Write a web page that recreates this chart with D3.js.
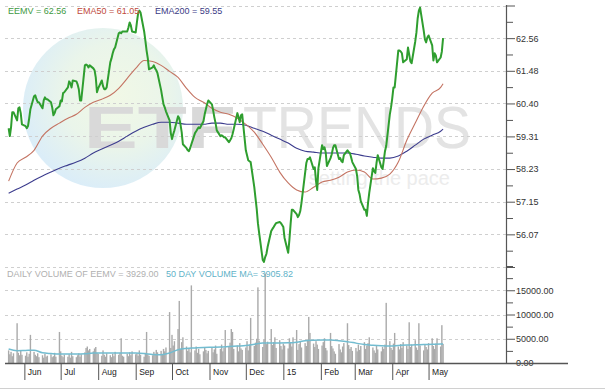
<!DOCTYPE html>
<html>
<head>
<meta charset="utf-8">
<script src="https://cdn.jsdelivr.net/npm/d3@7"></script>
<style>
  body { margin: 0; background: #fff; }
  svg { display: block; font-family: Arial, "Liberation Sans", sans-serif; }
</style>
</head>
<body>
<div id="chart"></div>
<script>
// trading days: weekdays from 19 May 2014 to 13 May 2015
const firstDay = new Date(2014, 4, 19),
    lastDay = new Date(2015, 4, 13);

// daily close of EEMV
const closes = [
  59.58, 59.32, 59.61, 60.11, 60.11,  59.84, 60.24, 60.27, 60.08, 59.71,
  59.65, 59.58, 59.65, 59.91, 60.21,  60.64, 60.67, 60.54, 60.44, 60.44,
  60.24, 60.50, 60.60, 60.54, 60.54,  60.44, 60.27, 60.01, 60.08, 60.21,
  60.31, 60.50, 60.47, 60.74, 60.77,  60.93, 61.13, 61.07, 60.93, 61.16,
  61.13, 61.03, 60.87, 60.50, 60.50,  61.66, 61.69, 61.66, 61.59, 61.66,
  61.56, 61.50, 61.26, 60.77, 60.90,  61.16, 60.97, 60.87, 60.87, 60.93,
  61.76, 61.89, 62.06, 62.19, 62.25,  62.72, 62.75, 62.72, 62.78, 62.78,
  62.78, 62.91, 63.08, 62.98, 62.78,  62.75, 63.08, 63.38, 63.47, 63.41,
  62.78, 62.48, 62.15, 61.89, 61.53,  61.59, 61.66, 61.56, 61.50, 61.40,
  60.84, 60.60, 60.37, 60.27, 60.14,  59.84, 59.42, 59.22, 59.38, 59.51,
  59.98, 59.91, 59.71, 59.45, 59.05,  58.92, 58.85, 58.82, 58.92, 59.05,
  59.42, 59.48, 59.55, 59.61, 59.58,  59.81, 60.04, 60.21, 60.37, 60.50,
  60.37, 60.17, 59.94, 59.75, 59.51,  59.32, 59.35, 59.32, 59.28, 59.28,
  59.12, 59.18, 59.25, 59.38, 59.55,  60.08, 59.94, 59.78, 60.01, 60.04,
  58.85, 58.69, 58.52, 58.49, 58.46,  57.63, 57.27, 56.91, 56.44, 56.12,
  55.22, 55.16, 55.32, 55.42, 55.65,  56.18, 56.25, 56.31, 56.38, 56.44,
  56.48, 56.44, 56.38, 56.31, 55.95,  55.46, 55.88, 56.41, 56.88, 56.88,
  56.74, 56.64, 56.71, 56.84, 57.11,  58.10, 58.43, 58.56, 58.56, 58.62,
  58.23, 58.29, 57.83, 57.54, 58.26,  59.02, 58.89, 58.95, 58.79, 58.33,
  58.59, 58.72, 58.92, 59.02, 59.02,  58.56, 58.59, 58.49, 58.46, 58.69,
  58.85, 58.79, 58.76, 58.62, 58.46,  58.23, 58.00, 57.54, 57.40, 57.17,
  56.88, 56.88, 56.68, 57.11, 57.44,  58.26, 58.16, 58.10, 58.43, 58.69,
  58.29, 58.23, 58.52, 58.82, 58.99,  60.04, 60.27, 60.57, 60.93, 60.93,
  62.15, 62.15, 62.12, 62.06, 61.76,  61.86, 62.25, 62.02, 61.79, 61.73,
  62.45, 62.75, 63.21, 63.47, 63.57,  62.81, 62.52, 62.42, 62.58, 62.65,
  62.32, 61.82, 62.06, 61.99, 61.76,  61.92, 62.12, 62.56
];

// daily volume
const volumes = [
  2600, 1800, 2300, 1400, 2000,  8200, 2100, 1600, 2500, 1700,
  1500, 2200, 1300, 1900, 5800,  2300, 1700, 1400, 2000, 1200,
  1600, 1100, 1900, 1300, 1500,  1800, 1200, 1400, 2100, 1300,
  6400, 2400, 1500, 1200, 1700,  1300, 1800, 1100, 2300, 1400,
  1200, 1600, 2000, 1300, 1800,  2200, 3100, 3400, 2600, 2900,
  2400, 3000, 3300, 2100, 1900,  1500, 2600, 1700, 1300, 2000,
  1600, 1200, 1900, 1400, 2300,  1700, 2100, 5100, 1500, 1300,
  1900, 1400, 2200, 1600, 2400,  1800, 2000, 1500, 2600, 1700,
  1300, 2100, 6400, 1800, 1500,  1600, 2300, 1900, 2700, 2200,
  2500, 1800, 2900, 2400, 3200,  10500, 3100, 5800, 3600, 4500,
  7000, 12800, 2800, 4300, 5300,  3400, 2500, 3000, 2200, 16000,
  2600, 3400, 2100, 2900, 1800,  2400, 3100, 2700, 2000, 2500,
  3300, 2200, 2800, 3600, 1900,  2900, 3800, 2400, 3100, 6800,
  3400, 4200, 7000, 6400, 2900,  3600, 2400, 4100, 3000, 2700,
  3200, 4500, 2600, 3800, 9300,  3500, 4200, 5000, 15600, 4600,
  3300, 4800, 18500, 3900, 4400,  7000, 3700, 4300, 5300, 3100,
  4700, 3500, 2800, 4000, 3600,  3000, 5100, 4200, 3400, 5300,
  6800, 2700, 3900, 4400, 3200,  4100, 3500, 4600, 9500, 6200,
  4000, 3300, 4500, 3800, 2900,  3600, 4300, 5100, 3100, 2600,
  6200, 3500, 3000, 2400, 1900,  3900, 2800, 2200, 3400, 4100,
  8200, 3700, 2900, 3300, 2500,  3100, 2400, 3800, 2700, 3500,
  4300, 2900, 3600, 4100, 5300,  3200, 2600, 2100, 3500, 2800,
  2400, 3300, 2900, 3800, 12400,  4500, 3100, 2700, 4000, 6200,
  3400, 2800, 3900, 3100, 4300,  3600, 2900, 8400, 3300, 3800,
  4700, 3200, 2700, 8200, 3600,  2600, 3900, 3300, 2800, 4100,
  5100, 3500, 2900, 4000, 5100,  3400, 7800, 3929
];

// averages read once a week (every 5th trading day, plus the last day)
const ema50 = [
  57.83, 58.43, 58.62, 58.85, 59.32, 59.58, 59.75, 59.91, 60.04, 60.27,
  60.44, 60.54, 60.67, 60.90, 61.23, 61.56, 61.82, 61.79, 61.66, 61.46,
  61.26, 60.90, 60.60, 60.44, 60.24, 60.11, 60.04, 59.91, 59.71, 59.45,
  59.05, 58.62, 58.13, 57.77, 57.54, 57.47, 57.63, 57.80, 57.86, 57.96,
  58.13, 58.20, 58.13, 57.90, 57.93, 58.06, 58.46, 59.18, 59.75, 60.31,
  60.74, 60.93, 61.05
];
const ema200 = [
  57.43, 57.57, 57.70, 57.86, 58.00, 58.13, 58.26, 58.36, 58.46, 58.59,
  58.76, 58.89, 59.02, 59.15, 59.32, 59.48, 59.61, 59.71, 59.78, 59.78,
  59.75, 59.71, 59.71, 59.71, 59.75, 59.75, 59.71, 59.71, 59.68, 59.58,
  59.48, 59.35, 59.22, 59.09, 58.92, 58.82, 58.79, 58.76, 58.76, 58.76,
  58.76, 58.72, 58.66, 58.62, 58.59, 58.59, 58.66, 58.82, 59.02, 59.22,
  59.35, 59.48, 59.55
];
const volMA = [
  2880, 2550, 2600, 2650, 2100, 1950, 1850, 1850, 1850, 1900,
  2050, 2060, 2060, 2060, 2060, 2050, 1950, 1750, 1700, 2050,
  2750, 3000, 3100, 3200, 3250, 3300, 3400, 3500, 3600, 3850,
  4100, 4120, 4120, 4150, 4300, 4600, 4700, 4730, 4730, 4600,
  4400, 4100, 3800, 3650, 3550, 3500, 3600, 3700, 3750, 3800,
  3850, 3900, 3905.82
];

const priceTicks = [56.07, 57.15, 58.23, 59.31, 60.40, 61.48, 62.56];
const priceEnds = [54.99, 63.64];
const volTicks = [0, 5000, 10000, 15000];
const volEnds = [20000];
const monthNames = ['Jun', 'Jul', 'Aug', 'Sep', 'Oct', 'Nov', 'Dec', '15', 'Feb', 'Mar', 'Apr', 'May'];

const width = 605,
    height = 391,
    left = 5,
    right = 506;

const days = d3.timeDay.range(firstDay, d3.timeDay.offset(lastDay, 1))
    .filter(d => d.getDay() !== 0 && d.getDay() !== 6);
const weekIdx = d3.range(0, days.length - 2, 5).concat([days.length - 1]);

const svg = d3.select('#chart').append('svg')
    .attr('width', width)
    .attr('height', height);

const x = d3.scaleTime()
    .domain([new Date(2014, 4, 16), new Date(2015, 6, 4)])
    .range([left, right]);
const y = d3.scaleLinear().domain(priceEnds).range([267, 5.5]);
const yv = d3.scaleLinear().domain([0, 20000]).range([363, 266]);

// watermark
const grad = svg.append('defs').append('radialGradient')
    .attr('id', 'globe').attr('cx', '58%').attr('cy', '42%').attr('r', '60%');
grad.append('stop').attr('offset', '0%').attr('stop-color', '#f1f8e6');
grad.append('stop').attr('offset', '55%').attr('stop-color', '#eaf5ea');
grad.append('stop').attr('offset', '100%').attr('stop-color', '#dbedf8');
svg.append('circle')
    .attr('cx', 103).attr('cy', 108).attr('r', 80)
    .attr('fill', 'url(#globe)');
svg.append('text')
    .attr('x', 84).attr('y', 148)
    .attr('font-size', 60).attr('font-weight', 'bold')
    .attr('textLength', 152).attr('lengthAdjust', 'spacingAndGlyphs')
    .attr('fill', '#d9d9d9')
    .text('ETF');
svg.append('text')
    .attr('x', 243).attr('y', 148)
    .attr('font-size', 60)
    .attr('textLength', 228).attr('lengthAdjust', 'spacingAndGlyphs')
    .attr('fill', '#e3e3e3')
    .text('TRENDS');
svg.append('text')
    .attr('x', 450).attr('y', 185)
    .attr('text-anchor', 'end')
    .attr('font-size', 20)
    .attr('fill', '#ececec')
    .text('setting the pace');

// grid
const grid = svg.append('g')
    .attr('stroke', '#cfcfcf')
    .attr('stroke-dasharray', '3,3');
grid.selectAll('.pg')
    .data(priceTicks.concat(priceEnds))
    .enter().append('line')
    .attr('x1', left).attr('x2', right)
    .attr('y1', d => Math.round(y(d)) + 0.5)
    .attr('y2', d => Math.round(y(d)) + 0.5);
grid.selectAll('.vg')
    .data([5000, 10000, 15000])
    .enter().append('line')
    .attr('x1', left).attr('x2', right)
    .attr('y1', d => Math.round(yv(d)) + 0.5)
    .attr('y2', d => Math.round(yv(d)) + 0.5);

// volume bars
svg.append('g').selectAll('rect')
    .data(volumes)
    .enter().append('rect')
    .attr('x', (d, i) => x(days[i]) - 0.7)
    .attr('width', 1.4)
    .attr('y', d => yv(d))
    .attr('height', d => yv(0) - yv(d))
    .attr('fill', '#aaaaaa');

const vLine = d3.line()
    .x((d, i) => x(days[weekIdx[i]]))
    .y(d => yv(d))
    .curve(d3.curveMonotoneX);
svg.append('path')
    .datum(volMA)
    .attr('d', vLine)
    .attr('fill', 'none')
    .attr('stroke', '#72bcd0')
    .attr('stroke-width', 1.5);

// moving averages
const weekLine = d3.line()
    .x((d, i) => x(days[weekIdx[i]]))
    .y(d => y(d))
    .curve(d3.curveMonotoneX);
svg.append('path')
    .datum(ema200)
    .attr('d', weekLine)
    .attr('fill', 'none')
    .attr('stroke', '#3d3d8e')
    .attr('stroke-width', 1.1);
svg.append('path')
    .datum(ema50)
    .attr('d', weekLine)
    .attr('fill', 'none')
    .attr('stroke', '#c47463')
    .attr('stroke-width', 1.1);

// price
const priceLine = d3.line()
    .x((d, i) => x(days[i]))
    .y(d => y(d));
svg.append('path')
    .datum(closes)
    .attr('d', priceLine)
    .attr('fill', 'none')
    .attr('stroke', '#2f9e2f')
    .attr('stroke-width', 2)
    .attr('stroke-linejoin', 'round');

// right axes
function styleAxis(g) {
    g.select('.domain').remove();
    g.selectAll('line').attr('stroke', '#555');
    g.selectAll('text').attr('fill', '#333').attr('font-size', 9);
}
const mids = arr => d3.pairs(arr).map(p => (p[0] + p[1]) / 2);

svg.append('g')
    .attr('transform', `translate(${right},0)`)
    .call(d3.axisRight(y).tickValues(priceTicks).tickSize(9).tickPadding(1).tickFormat(d3.format('.2f')))
    .call(styleAxis);
svg.append('g')
    .attr('transform', `translate(${right},0)`)
    .call(d3.axisRight(y).tickValues(mids(priceEnds.slice(0, 1).concat(priceTicks, priceEnds.slice(1)))).tickSize(7).tickFormat(''))
    .call(styleAxis);
svg.append('g')
    .attr('transform', `translate(${right},0)`)
    .call(d3.axisRight(y).tickValues(priceEnds).tickSize(9).tickFormat(''))
    .call(styleAxis);

svg.append('g')
    .attr('transform', `translate(${right},0)`)
    .call(d3.axisRight(yv).tickValues(volTicks).tickSize(9).tickPadding(1).tickFormat(d3.format('.2f')))
    .call(styleAxis);
svg.append('g')
    .attr('transform', `translate(${right},0)`)
    .call(d3.axisRight(yv).tickValues(mids(volTicks.concat(volEnds)).concat(volEnds)).tickSize(7).tickFormat(''))
    .call(styleAxis);

svg.append('line')
    .attr('x1', right + 0.5).attr('x2', right + 0.5)
    .attr('y1', 5).attr('y2', 364)
    .attr('stroke', '#555').attr('stroke-width', 1.2);

// time axis
const months = d3.timeMonth.range(new Date(2014, 5, 1), new Date(2015, 5, 1));
const xAxis = svg.append('g')
    .attr('transform', 'translate(0,363)')
    .call(d3.axisBottom(x).tickValues(months).tickSize(17)
        .tickFormat((d, i) => monthNames[i]));
xAxis.select('.domain').remove();
xAxis.selectAll('line').attr('stroke', '#555');
xAxis.selectAll('text')
    .attr('x', 3).attr('y', 6).attr('dy', '0.71em')
    .attr('text-anchor', 'start')
    .attr('fill', '#222').attr('font-size', 8.5);

svg.append('line')
    .attr('x1', left).attr('x2', 568)
    .attr('y1', 363.5).attr('y2', 363.5)
    .attr('stroke', '#555').attr('stroke-width', 1.5);

svg.append('line')
    .attr('x1', 0).attr('x2', width)
    .attr('y1', 388.5).attr('y2', 388.5)
    .attr('stroke', '#d0d0d0');

// legends
const legend = svg.append('g').attr('font-size', 9);
legend.append('text').attr('x', 8).attr('y', 14).attr('fill', '#3f9a3f').text('EEMV = 62.56');
legend.append('text').attr('x', 77).attr('y', 14).attr('fill', '#c04a3c').text('EMA50 = 61.05');
legend.append('text').attr('x', 155).attr('y', 14).attr('fill', '#3b3b85').text('EMA200 = 59.55');
legend.append('text').attr('x', 7).attr('y', 277).attr('fill', '#b0b0b0').text('DAILY VOLUME OF EEMV = 3929.00');
legend.append('text').attr('x', 166).attr('y', 277).attr('fill', '#5fb2c8').text('50 DAY VOLUME MA= 3905.82');
</script>
</body>
</html>
